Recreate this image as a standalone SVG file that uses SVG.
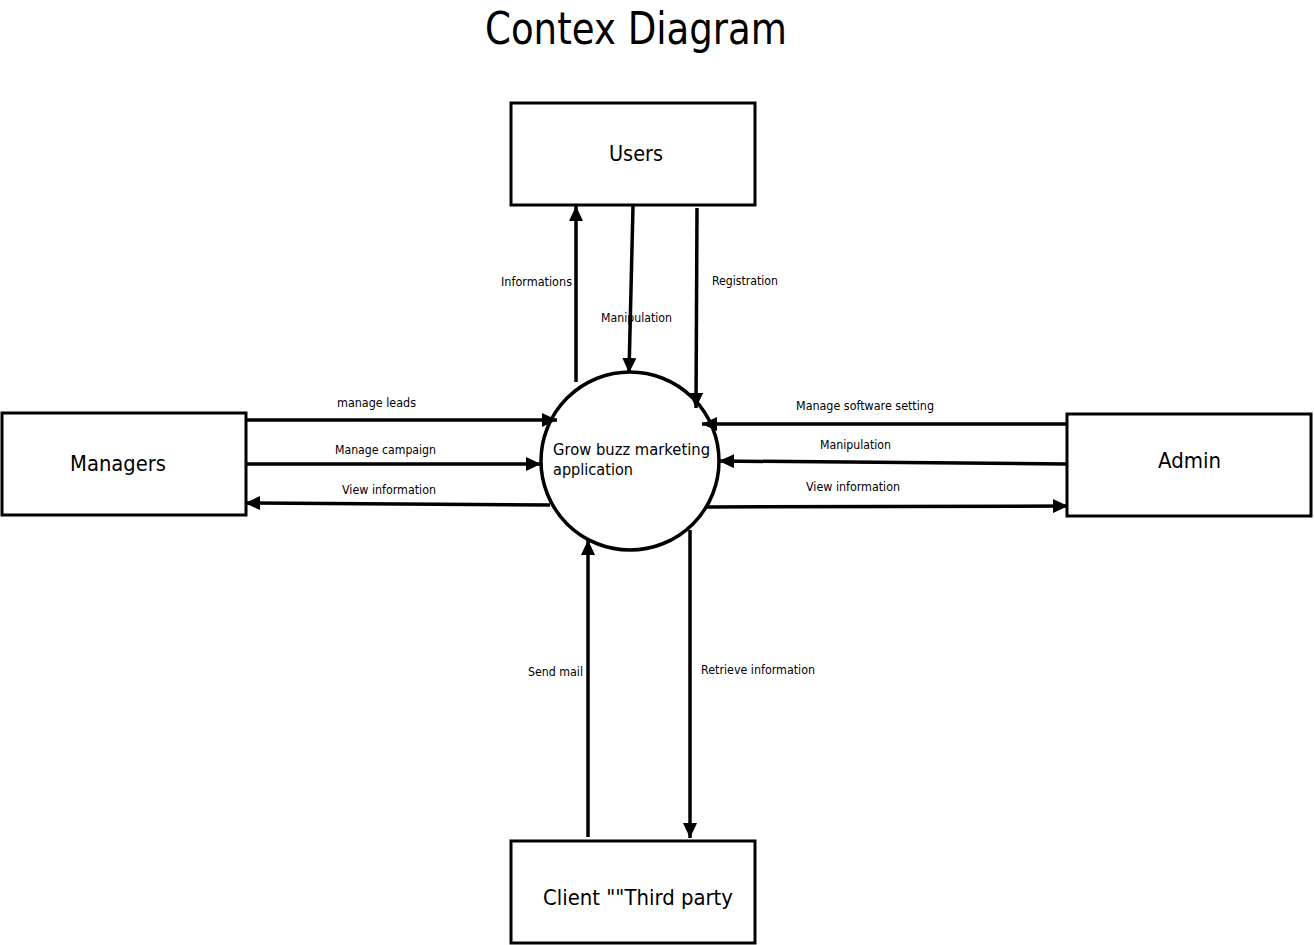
<svg xmlns="http://www.w3.org/2000/svg" width="1314" height="945" viewBox="0 0 1314 945">
<style>
.box{fill:#fff;stroke:#000;stroke-width:3}
.ln{fill:none;stroke:#000;stroke-width:3.5}
.t{font-family:"DejaVu Sans",Verdana,sans-serif;fill:#000}
.s{font-size:12px}
.n{font-size:21px}
</style>
<defs>
<marker id="ah" viewBox="0 0 15 14" refX="15" refY="7" markerWidth="15" markerHeight="14" markerUnits="userSpaceOnUse" orient="auto">
<path d="M0,0 L15,7 L0,14 Z" fill="#000"/>
</marker>
</defs>
<rect width="1314" height="945" fill="#fff"/>
<text class="t" x="485" y="44" font-size="44" textLength="302" lengthAdjust="spacingAndGlyphs">Contex Diagram</text>

<g id="users"><rect class="box" x="511" y="103" width="244" height="102"/><text class="t n" x="609" y="161" textLength="54" lengthAdjust="spacingAndGlyphs">Users</text></g>
<g id="managers"><rect class="box" x="2" y="413" width="244" height="102"/><text class="t n" x="70" y="471" textLength="96" lengthAdjust="spacingAndGlyphs">Managers</text></g>
<g id="admin"><rect class="box" x="1067" y="414" width="244" height="102"/><text class="t n" x="1158" y="468" textLength="63" lengthAdjust="spacingAndGlyphs">Admin</text></g>
<g id="client"><rect class="box" x="511" y="841" width="244" height="102"/><text class="t n" x="543" y="905" textLength="190" lengthAdjust="spacingAndGlyphs">Client ""Third party</text></g>
<g id="process"><circle cx="630" cy="461" r="89" fill="#fff" stroke="#000" stroke-width="3.5"/>
<text class="t" font-size="16" x="553" y="455" textLength="157" lengthAdjust="spacingAndGlyphs">Grow buzz marketing</text>
<text class="t" font-size="16" x="553" y="475" textLength="80" lengthAdjust="spacingAndGlyphs">application</text></g>

<g id="connectors">
<line class="ln" x1="576" y1="382" x2="576" y2="206" marker-end="url(#ah)"/>
<line class="ln" x1="633" y1="206" x2="629" y2="373" marker-end="url(#ah)"/>
<line class="ln" x1="697" y1="208" x2="696" y2="408" marker-end="url(#ah)"/>
<line class="ln" x1="246" y1="420" x2="557" y2="420" marker-end="url(#ah)"/>
<line class="ln" x1="246" y1="464" x2="541" y2="464" marker-end="url(#ah)"/>
<line class="ln" x1="550" y1="505" x2="245" y2="503" marker-end="url(#ah)"/>
<line class="ln" x1="1067" y1="424" x2="702" y2="424" marker-end="url(#ah)"/>
<line class="ln" x1="1067" y1="464" x2="719" y2="461" marker-end="url(#ah)"/>
<line class="ln" x1="707" y1="507" x2="1068" y2="506" marker-end="url(#ah)"/>
<line class="ln" x1="588" y1="837" x2="588" y2="540" marker-end="url(#ah)"/>
<line class="ln" x1="690" y1="530" x2="690" y2="838" marker-end="url(#ah)"/>
</g>

<g id="labels">
<text class="t s" x="501" y="286" textLength="71" lengthAdjust="spacingAndGlyphs">Informations</text>
<text class="t s" x="601" y="322" textLength="71" lengthAdjust="spacingAndGlyphs">Manipulation</text>
<text class="t s" x="712" y="285" textLength="66" lengthAdjust="spacingAndGlyphs">Registration</text>
<text class="t s" x="337" y="407" textLength="79" lengthAdjust="spacingAndGlyphs">manage leads</text>
<text class="t s" x="335" y="454" textLength="101" lengthAdjust="spacingAndGlyphs">Manage campaign</text>
<text class="t s" x="342" y="494" textLength="94" lengthAdjust="spacingAndGlyphs">View information</text>
<text class="t s" x="796" y="410" textLength="138" lengthAdjust="spacingAndGlyphs">Manage software setting</text>
<text class="t s" x="820" y="449" textLength="71" lengthAdjust="spacingAndGlyphs">Manipulation</text>
<text class="t s" x="806" y="491" textLength="94" lengthAdjust="spacingAndGlyphs">View information</text>
<text class="t s" x="528" y="676" textLength="55" lengthAdjust="spacingAndGlyphs">Send mail</text>
<text class="t s" x="701" y="674" textLength="114" lengthAdjust="spacingAndGlyphs">Retrieve information</text>
</g>
</svg>
